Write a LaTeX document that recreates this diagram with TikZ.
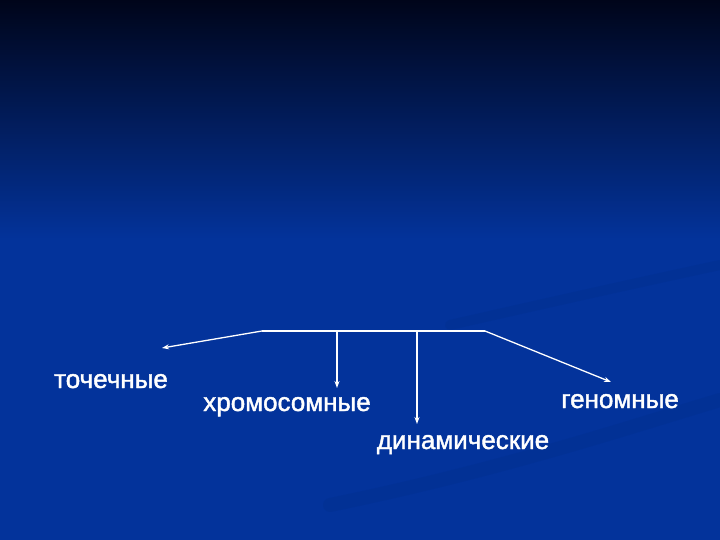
\documentclass[tikz,border=0pt]{standalone}
\usepackage{fontspec}
\setmainfont{Liberation Sans}
\newfontfamily\folienschrift[FakeBold=1.6]{Liberation Sans}
\usetikzlibrary{arrows.meta}

\tikzset{
	lbl/.style={anchor=base,inner sep=0pt,text=white,font=\folienschrift\fontsize{26}{30}\selectfont},
	pfeil/.style={white,line width=1.3pt,-{Stealth[length=7pt,width=5pt]}},
	stamm/.style={white,line width=1.3pt}
}

\begin{document}
\begin{tikzpicture}[x=1pt,y=-1pt]
		\definecolor{nachtblau}{HTML}{00051A}
		\definecolor{folienblau}{HTML}{03339B}
		\definecolor{streifen}{HTML}{002A80}
		% Hintergrund
		\fill[folienblau] (0,0) rectangle (720,540);
		\shade[top color=nachtblau,bottom color=folienblau] (0,0) rectangle (720,240);
		\useasboundingbox (0,0) rectangle (720,540);
		% Streifen
		\draw[streifen,line width=14pt,opacity=.2,line cap=round] (330,505) .. controls (500,470) and (620,430) .. (720,400);
		\draw[streifen,line width=10pt,opacity=.2,line cap=round] (450,325) .. controls (560,300) and (650,280) .. (720,265);
		% Begriffe
		\node[lbl] (punkt) at (111,388) {точечные};
		\node[lbl] (chromo) at (287,411) {хромосомные};
		\node[lbl] (dyn) at (463,449) {динамические};
		\node[lbl] (genom) at (620,408) {геномные};
		% Knoten
		\coordinate (links) at (262,331);
		\coordinate (rechts) at (485,331);
		\coordinate (ab1) at (337,331);
		\coordinate (ab2) at (417,331);
		\coordinate (spitze1) at (162,348);
		\coordinate (spitze2) at (337,388);
		\coordinate (spitze3) at (417,424);
		\coordinate (spitze4) at (611,382);
		% Verbindungen
		\draw[stamm] (links) -- (rechts);
		\draw[pfeil] (links) -- (spitze1);
		\draw[pfeil] (ab1) -- (spitze2);
		\draw[pfeil] (ab2) -- (spitze3);
		\draw[pfeil] (rechts) -- (spitze4);
\end{tikzpicture}
\end{document}
